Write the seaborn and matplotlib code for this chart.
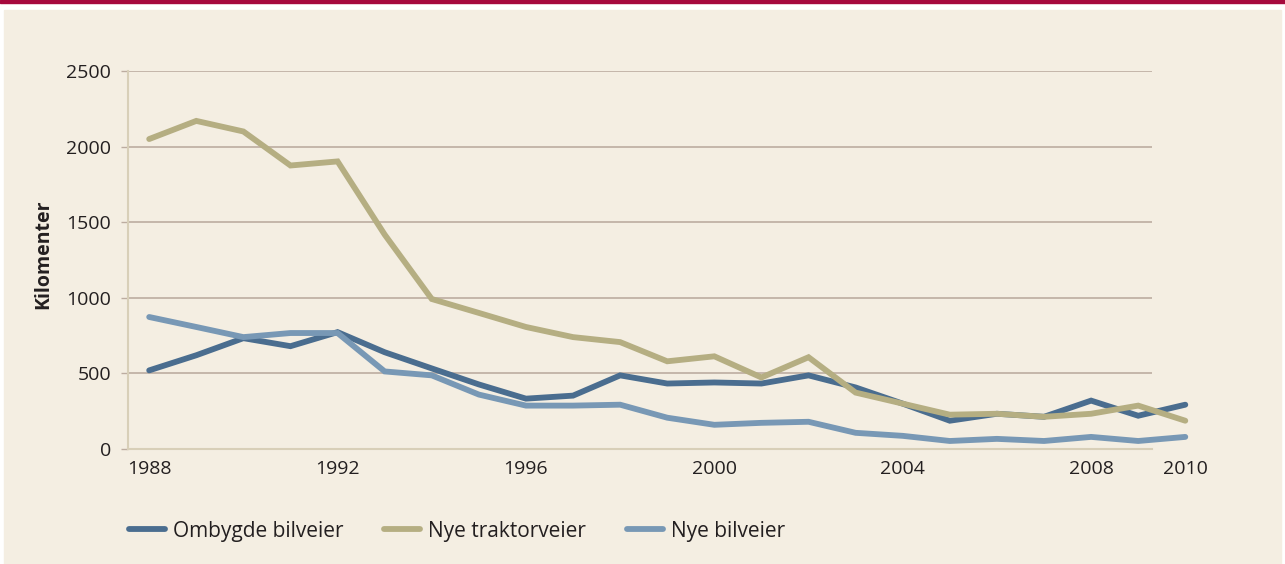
import numpy as np
import pandas as pd
import matplotlib.pyplot as plt
import seaborn as sns

# Road construction, km per year
years = list(range(1988, 2011))
ombygde = [520, 620, 733, 680, 773, 640, 533, 427, 333, 353, 487, 433, 440, 433,
           487, 407, 300, 187, 233, 213, 320, 220, 293]
traktor = [2050, 2170, 2100, 1875, 1902, 1418, 992, 900, 807, 740, 707, 580, 613, 473,
           607, 373, 300, 227, 233, 213, 233, 287, 187]
bilveier = [873, 807, 740, 767, 767, 513, 487, 360, 287, 287, 293, 207, 160, 173,
            180, 107, 87, 53, 67, 53, 80, 53, 80]

series = ["Ombygde bilveier", "Nye traktorveier", "Nye bilveier"]
colors = ["#4a6d8f", "#b5ae82", "#7898b5"]

df = pd.DataFrame({
    "year": years * 3,
    "km": ombygde + traktor + bilveier,
    "series": [s for s in series for _ in years],
})

bg = "#f4eee2"
txt = "#231f20"
sns.set_style("white")
plt.rcParams['font.family'] = ['Open Sans', 'DejaVu Sans']

fig = plt.figure(figsize=(12.85, 5.64), dpi=100)
fig.patch.set_facecolor("white")
# beige panel and red top rule
fig.patches.append(plt.Rectangle((4 / 1285, 0), 1277 / 1285, 1 - 10 / 564,
                                 transform=fig.transFigure, color=bg, zorder=-10))
fig.patches.append(plt.Rectangle((0, 1 - 3 / 564), 1, 3 / 564,
                                 transform=fig.transFigure, color="#a6093d", zorder=-10))

ax = fig.add_axes([128 / 1285, 1 - 449 / 564, (1190 - 128) / 1285, (449 - 71) / 564])
ax.set_facecolor("none")
ax.set_zorder(1)

grid_end = 2009.3
for v in [500, 1000, 1500, 2000, 2500]:
    ax.hlines(v, 1987.55, grid_end, color="#bcaca0", lw=1.2, zorder=1)

sns.lineplot(data=df, x="year", y="km", hue="series", palette=colors,
             linewidth=4.2, ax=ax, legend=False, zorder=3,
             solid_capstyle="round", solid_joinstyle="miter")

ax.set_xlim(1987.55, 2010.1)
ax.set_ylim(0, 2500)
ax.set_yticks([0, 500, 1000, 1500, 2000, 2500])
ax.set_xticks([1988, 1992, 1996, 2000, 2004, 2008, 2010])
ax.tick_params(axis="y", length=5, width=1, color="#bcaca0", labelsize=14,
               labelcolor=txt, pad=7, left=True)
ax.tick_params(axis="x", length=0, labelsize=14, labelcolor=txt, pad=8)

for s in ["top", "right"]:
    ax.spines[s].set_visible(False)
ax.spines["left"].set_color("#d8cfb8")
ax.spines["left"].set_linewidth(1.5)
ax.spines["bottom"].set_color("#d8cfb8")
ax.spines["bottom"].set_linewidth(1.5)
ax.spines["bottom"].set_bounds(1987.55, grid_end)

ax.set_xlabel("")
ax.set_ylabel("Kilomenter", fontsize=14, fontweight="bold", color=txt)
ax.yaxis.set_label_coords(-0.07, 0.516)

handles = [plt.Line2D([0], [0], color=c, lw=4.2, solid_capstyle="round") for c in colors]
fig.legend(handles, series, loc="center left", bbox_to_anchor=(110 / 1285, 1 - 531 / 564),
           ncol=3, frameon=False, fontsize=15, handlelength=1.73, handletextpad=0.38,
           columnspacing=1.97, labelcolor=txt)

fig.savefig("out.png", dpi=100, facecolor=fig.get_facecolor())
